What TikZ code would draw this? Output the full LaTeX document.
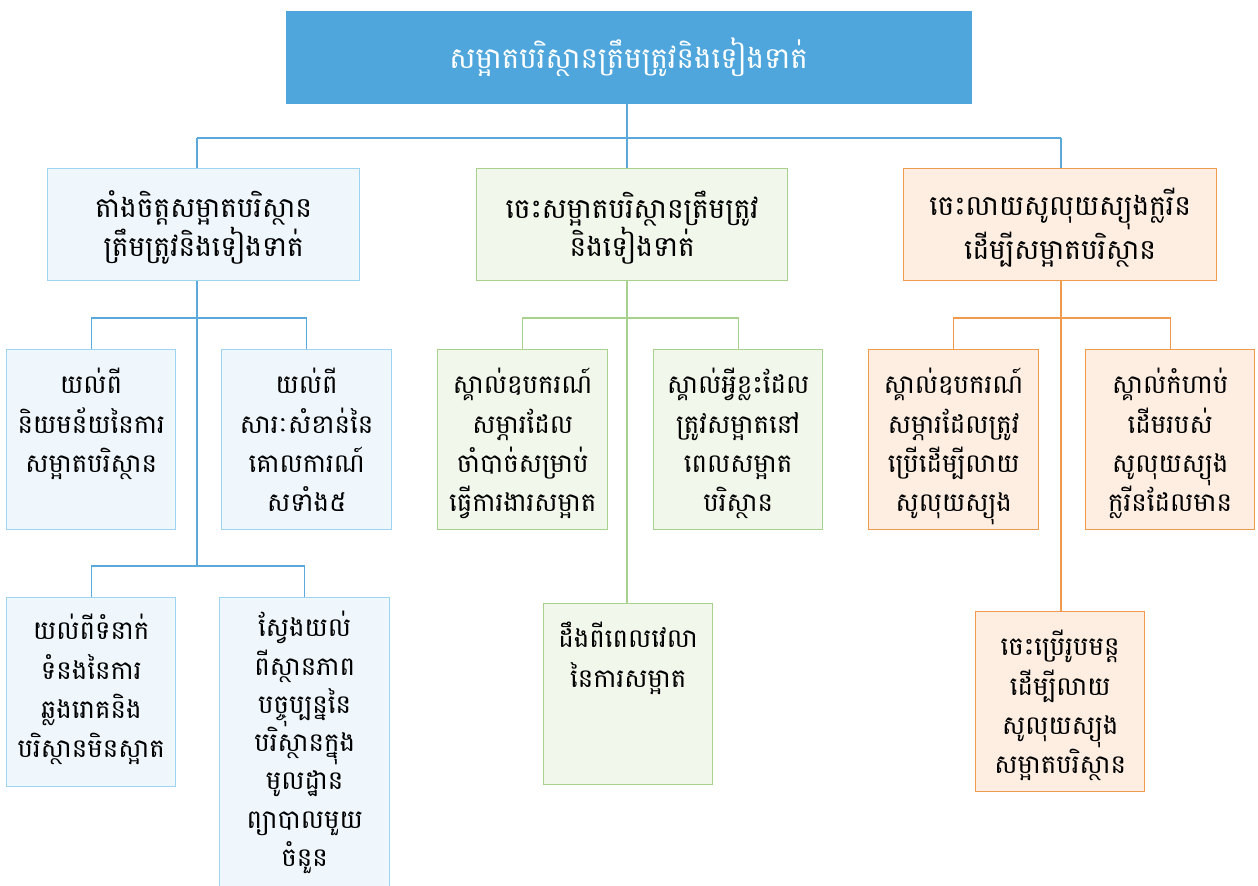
\documentclass[tikz,border=0pt]{standalone}
\usepackage{fontspec}
\newfontfamily\kh[Script=Khmer]{Battambang}
\definecolor{topfill}{HTML}{4EA6DC}
\definecolor{bluebd}{HTML}{9DD4F0}
\definecolor{bluefill}{HTML}{EFF7FD}
\definecolor{blueln}{HTML}{5BA8DB}
\definecolor{greenbd}{HTML}{A9D18E}
\definecolor{greenfill}{HTML}{F2F7EB}
\definecolor{orangebd}{HTML}{F09A50}
\definecolor{orangefill}{HTML}{FDEEE1}
\tikzset{
  box/.style={draw, line width=1pt, anchor=north west, inner sep=0pt},
  bbox/.style={box, draw=bluebd, fill=bluefill},
  gbox/.style={box, draw=greenbd, fill=greenfill},
  obox/.style={box, draw=orangebd, fill=orangefill},
  leaftxt/.style={anchor=north, align=center, inner sep=0pt, font=\kh\fontsize{19.5}{29.5}\selectfont},
  midtxt/.style={align=center, inner sep=0pt, font=\kh\fontsize{21}{26.5}\selectfont},
  bline/.style={draw=blueln, line width=1pt},
  gline/.style={draw=greenbd, line width=1pt},
  oline/.style={draw=orangebd, line width=1pt},
}
\begin{document}
\begin{tikzpicture}[x=0.75pt,y=-0.75pt]
\useasboundingbox[fill=white] (0,0) rectangle (1258,886);
% boxes
\node[box, draw=none, fill=topfill, minimum width=686*0.75pt, minimum height=93*0.75pt] (top) at (285,10) {};
\node[font=\kh\fontsize{22}{26}\selectfont, text=white, inner sep=0pt] (toptxt) at (top.center) {សម្អាតបរិស្ថានត្រឹមត្រូវនិងទៀងទាត់};

\node[bbox, minimum width=312*0.75pt, minimum height=112*0.75pt] (a) at (47,168) {};
\node[gbox, minimum width=311*0.75pt, minimum height=112*0.75pt] (b) at (476,168) {};
\node[obox, minimum width=313*0.75pt, minimum height=112*0.75pt] (c) at (903,168) {};
\node[midtxt] (at) at ([yshift=-3*0.75pt]a.center) {តាំងចិត្តសម្អាតបរិស្ថាន\\ត្រឹមត្រូវនិងទៀងទាត់};
\node[midtxt] (bt) at ([yshift=-3*0.75pt]b.center) {ចេះសម្អាតបរិស្ថានត្រឹមត្រូវ\\និងទៀងទាត់};
\node[midtxt] (ct) at ([yshift=-3*0.75pt]c.center) {ចេះលាយសូលុយស្យុងក្លរីន\\ដើម្បីសម្អាតបរិស្ថាន};

\node[bbox, minimum width=169*0.75pt, minimum height=180*0.75pt] (a1) at (6,349) {};
\node[bbox, minimum width=170*0.75pt, minimum height=180*0.75pt] (a2) at (221,349) {};
\node[bbox, minimum width=169*0.75pt, minimum height=189*0.75pt] (a3) at (6,597) {};
\node[bbox, minimum width=170*0.75pt, minimum height=300*0.75pt] (a4) at (219,597) {};
\node[gbox, minimum width=170*0.75pt, minimum height=180*0.75pt] (b1) at (437,349) {};
\node[gbox, minimum width=169*0.75pt, minimum height=180*0.75pt] (b2) at (653,349) {};
\node[gbox, minimum width=169*0.75pt, minimum height=181*0.75pt] (b3) at (543,603) {};
\node[obox, minimum width=170*0.75pt, minimum height=180*0.75pt] (c1) at (868,349) {};
\node[obox, minimum width=169*0.75pt, minimum height=180*0.75pt] (c2) at (1085,349) {};
\node[obox, minimum width=169*0.75pt, minimum height=180*0.75pt] (c3) at (975,611) {};

\node[leaftxt] (a1t) at ([yshift=-19*0.75pt]a1.north) {យល់ពី\\និយមន័យនៃការ\\សម្អាតបរិស្ថាន};
\node[leaftxt] (a2t) at ([yshift=-19*0.75pt]a2.north) {យល់ពី\\សារៈសំខាន់នៃ\\គោលការណ៍\\សទាំង៥};
\node[leaftxt] (a3t) at ([yshift=-17*0.75pt]a3.north) {យល់ពីទំនាក់\\ទំនងនៃការ\\ឆ្លងរោគនិង\\បរិស្ថានមិនស្អាត};
\node[leaftxt, font=\kh\fontsize{19.5}{28.7}\selectfont] (a4t) at ([yshift=-14*0.75pt]a4.north) {ស្វែងយល់\\ពីស្ថានភាព\\បច្ចុប្បន្ននៃ\\បរិស្ថានក្នុង\\មូលដ្ឋាន\\ព្យាបាលមួយ\\ចំនួន};
\node[leaftxt] (b1t) at ([yshift=-19*0.75pt]b1.north) {ស្គាល់ឧបករណ៍\\សម្ភារដែល\\ចាំបាច់សម្រាប់\\ធ្វើការងារសម្អាត};
\node[leaftxt] (b2t) at ([yshift=-19*0.75pt]b2.north) {ស្គាល់អ្វីខ្លះដែល\\ត្រូវសម្អាតនៅ\\ពេលសម្អាត\\បរិស្ថាន};
\node[leaftxt] (b3t) at ([yshift=-19*0.75pt]b3.north) {ដឹងពីពេលវេលា\\នៃការសម្អាត};
\node[leaftxt] (c1t) at ([yshift=-19*0.75pt]c1.north) {ស្គាល់ឧបករណ៍\\សម្ភារដែលត្រូវ\\ប្រើដើម្បីលាយ\\សូលុយស្យុង};
\node[leaftxt] (c2t) at ([yshift=-19*0.75pt]c2.north) {ស្គាល់កំហាប់\\ដើមរបស់\\សូលុយស្យុង\\ក្លរីនដែលមាន};
\node[leaftxt] (c3t) at ([yshift=-19*0.75pt]c3.north) {ចេះប្រើរូបមន្ត\\ដើម្បីលាយ\\សូលុយស្យុង\\សម្អាតបរិស្ថាន};

% connector helpers
\coordinate (xa) at (197,0);
\coordinate (xb) at (627,0);
\coordinate (xc) at (1061,0);
\coordinate (bar) at (0,138);
\coordinate (yone) at (0,318);
\coordinate (ytwo) at (0,566);

\draw[bline] (top.south -| xb) -- (bar -| xb);
\draw[bline] (bar -| xa) -- (bar -| xc);
\draw[bline] (bar -| xa) -- (a.north -| xa);
\draw[bline] (bar -| xb) -- (b.north -| xb);
\draw[bline] (bar -| xc) -- (c.north -| xc);

\draw[bline] (a.south -| xa) -- (ytwo -| xa);
\draw[bline] (a1.north) |- (yone -| xa) -| (a2.north);
\draw[bline] (a3.north) |- (ytwo -| xa) -| (a4.north);

\draw[gline] (b.south -| xb) -- (b3.north -| xb);
\draw[gline] (b1.north) |- (yone -| xb) -| (b2.north);

\draw[oline] (c.south -| xc) -- (c3.north -| xc);
\draw[oline] (c1.north) |- (yone -| xc) -| (c2.north);
\end{tikzpicture}
\end{document}
